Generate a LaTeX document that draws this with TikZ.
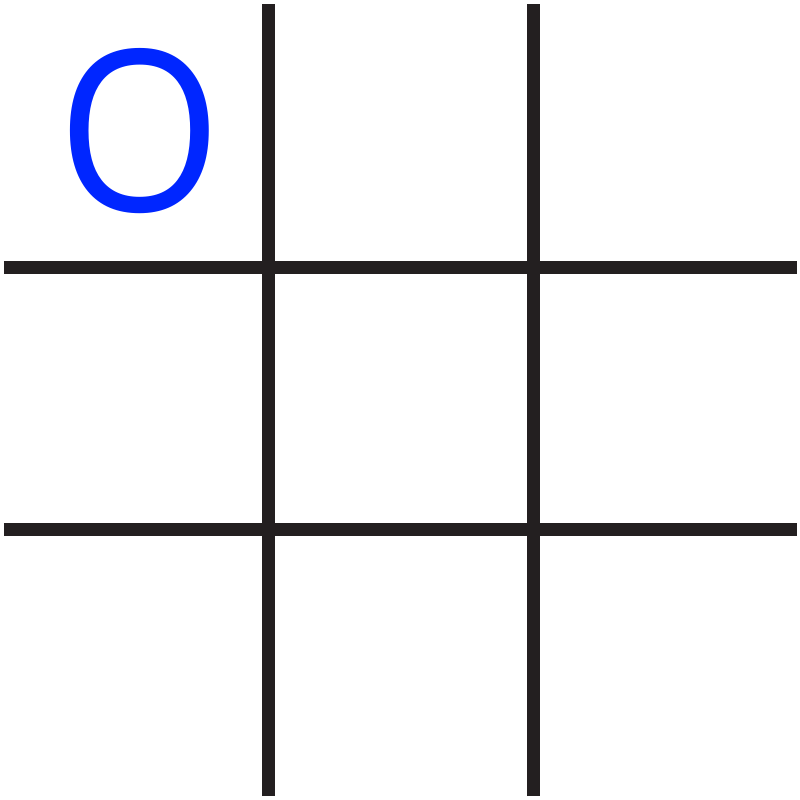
\documentclass[tikz,border=0pt]{standalone}
\usepackage{fontspec}
\setmainfont{Open Sans}
\usepackage{xcolor}
\usetikzlibrary{positioning}
\definecolor{GridBlack}{RGB}{35,31,32}
\definecolor{MarkBlue}{RGB}{0,38,255}

\begin{document}
\begin{tikzpicture}
\def\S{8}
\useasboundingbox (0,0) rectangle (\S,\S);

% ---- grid lines ----
\foreach \x in {2.68, 5.33}{
  \draw[GridBlack, line width=0.13cm] (\x, 0.04) -- (\x, 7.96);
}
\foreach \y in {5.32, 2.70}{
  \draw[GridBlack, line width=0.13cm] (0.04, \y) -- (7.97, \y);
}

% ---- mark ----
\node[anchor=base, inner sep=0pt, text=MarkBlue, xscale=0.94,
      font=\fontsize{64}{64}\selectfont] (markO) at (1.40, 5.885) {O};

\end{tikzpicture}
\end{document}
